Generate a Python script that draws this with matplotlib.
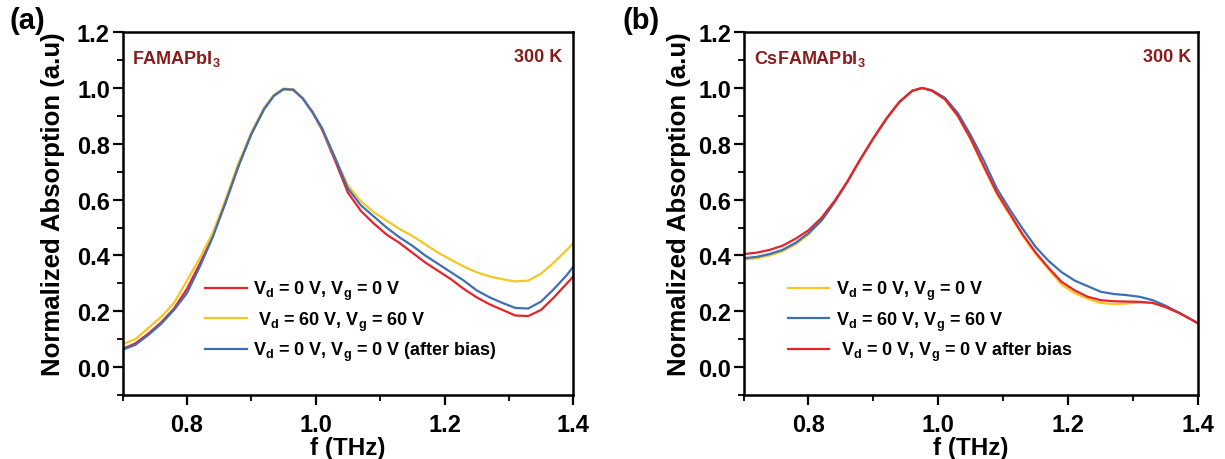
import matplotlib
matplotlib.use('Agg')
from matplotlib import pyplot as plt
from matplotlib.ticker import MultipleLocator

plt.rcParams['font.family'] = ['Liberation Sans', 'DejaVu Sans']
plt.rcParams['font.weight'] = 'bold'
plt.rcParams['mathtext.fontset'] = 'custom'
plt.rcParams['mathtext.rm'] = 'Liberation Sans:bold'
plt.rcParams['mathtext.bf'] = 'Liberation Sans:bold'
plt.rcParams['mathtext.it'] = 'Liberation Sans:bold'
plt.rcParams['mathtext.default'] = 'bf'

RED = '#e8232b'
YELLOW = '#f6c624'
BLUE = '#3f6fb3'
DARKRED = '#8b1a1a'

# ---- panel (a): FAMAPbI3
fa = [0.70, 0.72, 0.74, 0.76, 0.78, 0.80, 0.82, 0.84, 0.86, 0.88, 0.90, 0.92,
      0.935, 0.95, 0.965, 0.98, 0.995, 1.01, 1.03, 1.05, 1.07, 1.09, 1.11, 1.13, 1.15,
      1.17, 1.19, 1.21, 1.23, 1.25, 1.27, 1.29, 1.31, 1.33, 1.35, 1.37, 1.39, 1.40]
a_red = [0.065, 0.085, 0.12, 0.16, 0.21, 0.28, 0.37, 0.47, 0.59, 0.72, 0.835, 0.925,
         0.972, 0.996, 0.994, 0.962, 0.912, 0.85, 0.74, 0.625, 0.56, 0.515, 0.475, 0.445, 0.41,
         0.375, 0.345, 0.315, 0.28, 0.25, 0.225, 0.205, 0.185, 0.183, 0.205, 0.25, 0.30, 0.325]
a_yellow = [0.082, 0.10, 0.14, 0.18, 0.23, 0.31, 0.39, 0.48, 0.60, 0.73, 0.84, 0.93,
            0.975, 0.998, 0.995, 0.963, 0.915, 0.855, 0.75, 0.65, 0.595, 0.555, 0.525, 0.495, 0.47,
            0.44, 0.41, 0.385, 0.36, 0.34, 0.325, 0.315, 0.307, 0.31, 0.335, 0.375, 0.42, 0.445]
a_blue = [0.062, 0.08, 0.115, 0.155, 0.205, 0.265, 0.36, 0.465, 0.59, 0.72, 0.835, 0.925,
          0.972, 0.996, 0.994, 0.962, 0.914, 0.855, 0.75, 0.64, 0.58, 0.54, 0.50, 0.465, 0.435,
          0.40, 0.37, 0.34, 0.31, 0.275, 0.25, 0.23, 0.212, 0.21, 0.235, 0.28, 0.33, 0.36]

# ---- panel (b): CsFAMAPbI3
fb = [0.70, 0.72, 0.74, 0.76, 0.78, 0.80, 0.82, 0.84, 0.86, 0.88, 0.90, 0.92,
      0.94, 0.96, 0.975, 0.99, 1.01, 1.03, 1.05, 1.07, 1.09, 1.11, 1.13, 1.15,
      1.17, 1.19, 1.21, 1.23, 1.25, 1.27, 1.29, 1.31, 1.33, 1.35, 1.37, 1.39, 1.40]
b_yellow = [0.385, 0.39, 0.40, 0.415, 0.44, 0.475, 0.525, 0.59, 0.665, 0.745, 0.82, 0.89,
            0.95, 0.99, 1.0, 0.99, 0.96, 0.90, 0.815, 0.715, 0.62, 0.545, 0.47, 0.405,
            0.35, 0.295, 0.265, 0.245, 0.23, 0.226, 0.228, 0.232, 0.23, 0.215, 0.195, 0.17, 0.157]
b_blue = [0.39, 0.395, 0.405, 0.42, 0.445, 0.48, 0.525, 0.59, 0.665, 0.745, 0.82, 0.89,
          0.95, 0.99, 1.0, 0.992, 0.965, 0.91, 0.83, 0.74, 0.64, 0.565, 0.495, 0.43,
          0.38, 0.34, 0.31, 0.29, 0.27, 0.262, 0.258, 0.252, 0.24, 0.22, 0.196, 0.17, 0.157]
b_red = [0.405, 0.41, 0.42, 0.435, 0.46, 0.49, 0.535, 0.595, 0.665, 0.745, 0.82, 0.89,
         0.95, 0.99, 1.0, 0.99, 0.96, 0.90, 0.817, 0.72, 0.625, 0.55, 0.475, 0.41,
         0.355, 0.305, 0.275, 0.252, 0.24, 0.236, 0.235, 0.234, 0.23, 0.215, 0.195, 0.17, 0.157]

labels_a = [r'V$_d$ = 0 V, V$_g$ = 0 V', r' V$_d$ = 60 V, V$_g$ = 60 V',
            r'V$_d$ = 0 V, V$_g$ = 0 V (after bias)']
labels_b = [r'V$_d$ = 0 V, V$_g$ = 0 V', r'V$_d$ = 60 V, V$_g$ = 60 V',
            r' V$_d$ = 0 V, V$_g$ = 0 V after bias']

fig = plt.figure(figsize=(12.25, 4.6), dpi=100)
ax1 = fig.add_axes([0.1, 0.139, 0.368, 0.789])
ax2 = fig.add_axes([0.607, 0.139, 0.371, 0.789])

ax1.plot(fa, a_red, color=RED, lw=1.6, label=labels_a[0])
ax1.plot(fa, a_yellow, color=YELLOW, lw=1.6, label=labels_a[1])
ax1.plot(fa, a_blue, color=BLUE, lw=1.6, label=labels_a[2])

ax2.plot(fb, b_yellow, color=YELLOW, lw=1.6, label=labels_b[0])
ax2.plot(fb, b_blue, color=BLUE, lw=1.6, label=labels_b[1])
ax2.plot(fb, b_red, color=RED, lw=1.6, label=labels_b[2])

setup = [(ax1, r'FAMAPbI$_3$', '(a)', 0.975, -0.128, 0.008),
         (ax2, r'CsFAMAPbI$_3$', '(b)', 0.986, -0.116, 0.508)]
for ax, mat, tag, kx, ylx, tagx in setup:
    ax.set_xlim(0.7, 1.4)
    ax.set_ylim(-0.1, 1.2)
    ax.xaxis.set_major_locator(MultipleLocator(0.2))
    ax.xaxis.set_minor_locator(MultipleLocator(0.1))
    ax.yaxis.set_major_locator(MultipleLocator(0.2))
    ax.yaxis.set_minor_locator(MultipleLocator(0.1))
    ax.xaxis.set_major_formatter(lambda v, p: f'{v:.1f}')
    ax.yaxis.set_major_formatter(lambda v, p: f'{v:.1f}')
    ax.tick_params(which='major', direction='out', length=7, width=1.6, labelsize=17)
    ax.tick_params(axis='x', which='major', pad=6)
    ax.tick_params(axis='y', which='major', pad=2)
    ax.tick_params(which='minor', direction='out', length=4, width=1.3)
    for s in ax.spines.values():
        s.set_linewidth(1.8)
    ax.set_xlabel('f (THz)', fontsize=17.5, fontweight='bold')
    ax.set_ylabel('Normalized Absorption (a.u)', fontsize=18.5, fontweight='bold')
    ax.xaxis.set_label_coords(0.5, -0.112)
    ax.yaxis.set_label_coords(ylx, 0.53)
    ax.text(0.022, 0.955, mat, transform=ax.transAxes, color=DARKRED,
            fontsize=13, fontweight='bold', va='top', ha='left')
    ax.text(kx, 0.955, '300 K', transform=ax.transAxes, color=DARKRED,
            fontsize=13, fontweight='bold', va='top', ha='right')
    fig.text(tagx, 0.985, tag, fontsize=21, fontweight='bold', va='top', ha='left')

ax1.legend(loc='upper left', bbox_to_anchor=(0.183, 0.32), frameon=False, borderpad=0,
           borderaxespad=0, fontsize=13, handlelength=2.3, handletextpad=0.35,
           labelspacing=0.4)
ax2.legend(loc='upper left', bbox_to_anchor=(0.097, 0.32), frameon=False, borderpad=0,
           borderaxespad=0, fontsize=13, handlelength=2.3, handletextpad=0.35,
           labelspacing=0.4)

fig.savefig('out.png', dpi=100)
